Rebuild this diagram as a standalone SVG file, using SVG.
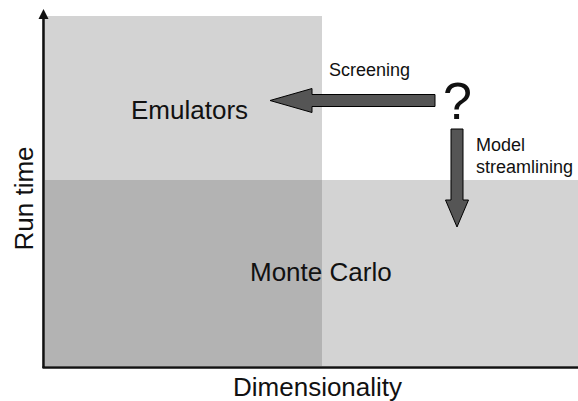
<svg xmlns="http://www.w3.org/2000/svg" width="578" height="401" viewBox="0 0 578 401">
<style>
.lbl{font-family:"Liberation Sans",Arial,sans-serif;fill:#111}
.big{font-size:26px}
.sm{font-size:18px}
.arr{fill:#555;stroke:#000;stroke-width:1}
.axis{stroke:#111;stroke-width:2.6;fill:none}
</style>
<rect width="578" height="401" fill="#fff"/>
<g id="regions">
<rect id="emulators-region" x="45" y="16" width="277" height="164" fill="#d3d3d3"/>
<rect id="mc-region" x="45" y="180" width="533" height="186" fill="#d3d3d3"/>
<rect id="overlap" x="45" y="180" width="277" height="186" fill="#b3b3b3"/>
</g>
<g id="axes">
<line class="axis" x1="43.5" y1="18" x2="43.5" y2="368"/>
<polygon points="43.5,9 48.5,19 38.5,19" fill="#111"/>
<line class="axis" x1="42.5" y1="367.5" x2="578" y2="367.5"/>
</g>
<g id="connectors">
<polygon class="arr" points="270,100.5 312,88.5 312,94.5 435,94.5 435,106.5 312,106.5 312,112.5"/>
<polygon class="arr" points="451,129 463,129 463,200 468.5,200 457,227 445.5,200 451,200"/>
</g>
<g id="n-emulators"><text class="lbl big" x="131" y="119">Emulators</text></g>
<g id="n-montecarlo"><text class="lbl big" x="250" y="281">Monte Carlo</text></g>
<g id="n-question"><text class="lbl" x="457.5" y="119" font-size="52" text-anchor="middle">?</text></g>
<g id="n-screening"><text class="lbl sm" x="329" y="76">Screening</text></g>
<g id="n-streamlining"><text class="lbl sm" x="476" y="151">Model</text><text class="lbl sm" x="476" y="173">streamlining</text></g>
<g id="x-label"><text class="lbl big" x="233" y="396">Dimensionality</text></g>
<g id="y-label"><text class="lbl big" transform="translate(33,198.5) rotate(-90)" text-anchor="middle">Run time</text></g>
</svg>
